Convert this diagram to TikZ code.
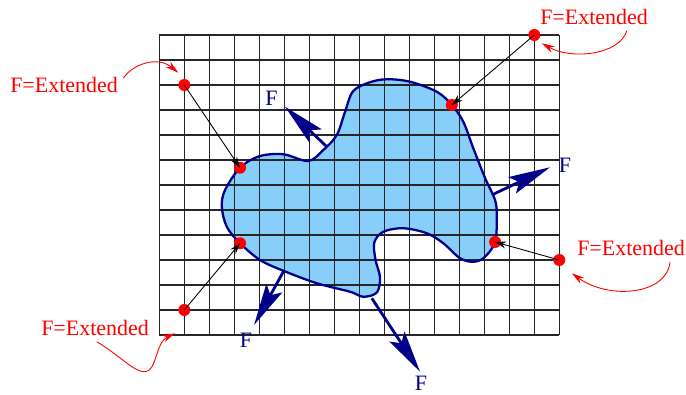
\documentclass[tikz,border=0pt]{standalone}
\usepackage{fontspec}
\setmainfont{Liberation Serif}
\usepackage{tikz}
\usetikzlibrary{arrows.meta,positioning,calc}
\definecolor{blobblue}{RGB}{135,206,250}
\definecolor{forceblue}{RGB}{0,0,139}
\definecolor{extred}{RGB}{255,0,0}
\tikzset{
  gridline/.style={
    line width=0.6pt,
    black!85
  },
  blobline/.style={
    draw=forceblue,
    line width=1.3pt,
    fill=blobblue
  },
  ptdot/.style={
    circle,
    fill=extred,
    minimum size=2.4mm,
    inner sep=0pt
  },
  extlabel/.style={
    text=extred,
    inner sep=1pt,
    font=\fontsize{12.5}{15}\selectfont
  },
  flabel/.style={
    text=forceblue,
    inner sep=0pt,
    font=\fontsize{12.5}{15}\selectfont
  },
  movearr/.style={-{Stealth[length=2.2mm,width=1.4mm]},line width=0.5pt,black},
  extarr/.style={-{Stealth[length=2.6mm,width=1.4mm]},line width=0.5pt,extred},
  forcearr/.style={-{Stealth[length=8.4mm,width=3.6mm,inset=1.6mm]},line width=1.6pt,forceblue}
}

\begin{document}
\begin{tikzpicture}[x=0.5cm,y=0.5cm]
  \useasboundingbox (-6.372,-2.36) rectangle (21.068,13.4);

  % body
  \fill[blobblue] plot[smooth cycle,tension=0.55] coordinates {
    (3.23,6.69) (4.0,7.15) (4.96,7.23) (5.96,6.96) (6.56,7.40) (7.10,8.0)
    (7.43,8.93) (7.75,9.75) (8.4,10.1) (9.10,10.23) (10.03,10.13) (11.10,9.73)
    (11.70,9.2) (12.16,8.53) (12.56,7.47) (13.03,6.28) (13.43,5.4) (13.50,4.73)
    (13.43,3.72) (13.0,3.1) (12.56,2.93) (12.03,3.07) (11.36,3.67) (10.70,4.07)
    (9.76,4.27) (8.96,4.13) (8.6,3.7) (8.65,3.0) (8.83,2.3) (8.7,1.7)
    (8.16,1.53) (7.63,1.73) (6.30,2.07) (4.96,2.57) (4.03,3.0) (3.23,3.67)
    (2.70,4.33) (2.50,5.13) (2.63,5.8)};
  \draw[gridline,step=0.5cm] (0,0) grid (16,12);
  \draw[blobline,fill=none] plot[smooth cycle,tension=0.55] coordinates {
    (3.23,6.69) (4.0,7.15) (4.96,7.23) (5.96,6.96) (6.56,7.40) (7.10,8.0)
    (7.43,8.93) (7.75,9.75) (8.4,10.1) (9.10,10.23) (10.03,10.13) (11.10,9.73)
    (11.70,9.2) (12.16,8.53) (12.56,7.47) (13.03,6.28) (13.43,5.4) (13.50,4.73)
    (13.43,3.72) (13.0,3.1) (12.56,2.93) (12.03,3.07) (11.36,3.67) (10.70,4.07)
    (9.76,4.27) (8.96,4.13) (8.6,3.7) (8.65,3.0) (8.83,2.3) (8.7,1.7)
    (8.16,1.53) (7.63,1.73) (6.30,2.07) (4.96,2.57) (4.03,3.0) (3.23,3.67)
    (2.70,4.33) (2.50,5.13) (2.63,5.8)};

  % points on the boundary and outside
  \node[ptdot] (in1) at (3.23,6.69) {};
  \node[ptdot] (in2) at (11.70,9.2) {};
  \node[ptdot] (in3) at (13.43,3.72) {};
  \node[ptdot] (in4) at (3.23,3.67) {};
  \node[ptdot] (out1) at (1,10) {};
  \node[ptdot] (out2) at (15,12) {};
  \node[ptdot] (out3) at (16,3) {};
  \node[ptdot] (out4) at (1,1) {};
  \draw[movearr] (out1.center) -- (in1.center);
  \draw[movearr] (out2.center) -- (in2.center);
  \draw[movearr] (out3.center) -- (in3.center);
  \draw[movearr] (out4.center) -- (in4.center);

  % labels
  \node[extlabel] (ext1) at (-3.81,10.0) {F=Extended};
  \node[extlabel] (ext2) at (17.39,12.72) {F=Extended};
  \node[extlabel] (ext3) at (18.87,3.48) {F=Extended};
  \node[extlabel] (ext4) at (-2.57,0.28) {F=Extended};
  \coordinate (c1) at (-1.44,10.27);
  \coordinate (c2) at (18.70,12.17);
  \coordinate (c3) at (20.43,2.93);
  \coordinate (c4) at (-2.50,-0.27);
  \coordinate (e1) at (0.76,10.49);
  \coordinate (e2) at (15.30,11.67);
  \coordinate (e3) at (16.50,2.47);
  \coordinate (e4) at (0.63,0.07);
  \draw[extarr] (c1) .. controls (-1.1,10.8) and (-0.1,11.2) .. (e1);
  \draw[extarr] (c2) .. controls (18.4,11.2) and (16.5,11.0) .. (e2);
  \draw[extarr] (c3) .. controls (20.3,1.6) and (18.0,1.4) .. (e3);
  \draw[extarr] (c4) .. controls (-1.6,-0.8) and (-1.0,-1.5) .. (-0.57,-1.47)
    .. controls (-0.1,-1.45) and (-0.15,-0.3) .. (e4);

  % forces
  \coordinate (f1) at (6.70,7.53);
  \coordinate (f2) at (13.30,5.6);
  \coordinate (f3) at (4.96,2.53);
  \coordinate (f4) at (8.50,1.47);
  \coordinate (t1) at (5.03,9.13);
  \coordinate (t2) at (15.63,6.71);
  \coordinate (t3) at (3.79,0.4);
  \coordinate (t4) at (10.43,-1.47);
  \draw[forcearr] (f1) -- (t1);
  \draw[forcearr] (f2) -- (t2);
  \draw[forcearr] (f3) -- (t3);
  \draw[forcearr] (f4) -- (t4);
  \node[flabel] (F1) at (4.49,9.47) {F};
  \node[flabel] (F2) at (16.23,6.8) {F};
  \node[flabel] (F3) at (3.47,-0.2) {F};
  \node[flabel] (F4) at (10.47,-1.95) {F};
\end{tikzpicture}
\end{document}
